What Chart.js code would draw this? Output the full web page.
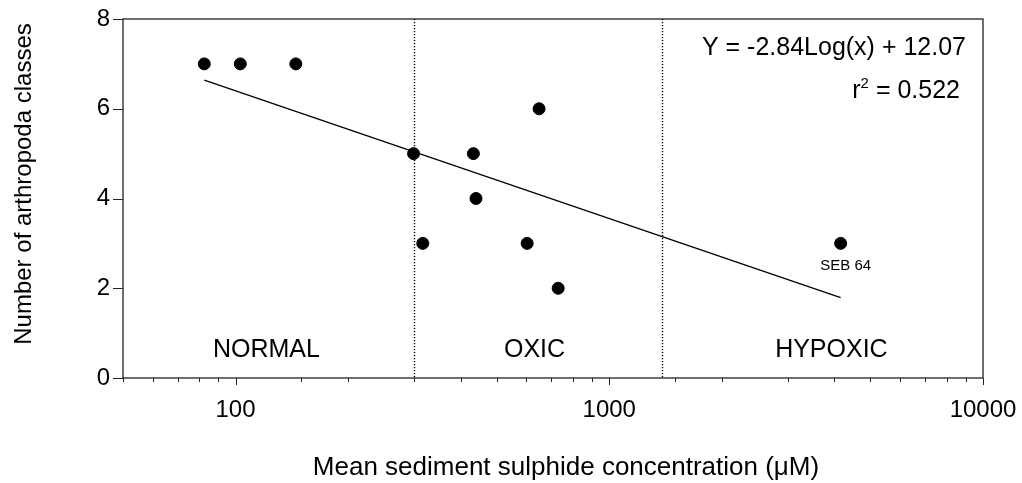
<!DOCTYPE html>
<html>
<head>
<meta charset="utf-8">
<script src="https://cdn.jsdelivr.net/npm/chart.js@4/dist/chart.umd.min.js"></script>
<style>
  body { margin: 0; background: #fff; }
  #wrap { width: 1022px; height: 483px; }
</style>
</head>
<body>
<div id="wrap"><canvas id="sulphideChart" width="1022" height="483"></canvas></div>
<script>
// sulphide (uM) vs number of arthropoda classes
const sulphide = [82.5, 103, 145, 299.5, 317, 433, 440, 603, 649, 730, 4160];
const classes = [7, 7, 7, 5, 3, 5, 4, 3, 6, 2, 3];

// fitted line end points (Y = -2.84Log(x) + 12.07)
const fitX = [82.5, 4160];
const fitY = [6.64, 1.79];

const zoneBounds = [300, 1380];
const zoneNames = ['NORMAL', 'OXIC', 'HYPOXIC'];
const zoneCentres = [121, 631, 3930];
const xTickLabels = [100, 1000, 10000];
const yTickLabels = [0, 2, 4, 6, 8];

const FONT = "'Liberation Sans', Arial, Helvetica, sans-serif";

const decor = {
    id: 'decor',
    beforeDatasetsDraw(chart) {
        const { ctx, chartArea: a, scales: { x } } = chart;
        ctx.save();
        ctx.strokeStyle = '#000';
        ctx.lineWidth = 1.4;
        ctx.setLineDash([1.2, 1.8]);
        zoneBounds.forEach(v => {
            const px = Math.round(x.getPixelForValue(v)) + 0.5;
            ctx.beginPath();
            ctx.moveTo(px, a.top);
            ctx.lineTo(px, a.bottom);
            ctx.stroke();
        });
        ctx.restore();
    },
    afterDraw(chart) {
        const { ctx, chartArea: a, scales: { x, y } } = chart;
        ctx.save();

        // frame
        ctx.strokeStyle = '#222';
        ctx.lineWidth = 1.3;
        ctx.strokeRect(a.left, a.top, a.right - a.left, a.bottom - a.top);

        // x tick marks, long at decades
        ctx.lineWidth = 1;
        x.ticks.forEach(t => {
            const px = Math.round(x.getPixelForValue(t.value)) + 0.5;
            const major = xTickLabels.includes(t.value);
            ctx.beginPath();
            ctx.moveTo(px, a.bottom);
            ctx.lineTo(px, a.bottom + (major ? 7 : 4));
            ctx.stroke();
        });
        // y tick marks
        yTickLabels.forEach(v => {
            const py = Math.round(y.getPixelForValue(v)) + 0.5;
            ctx.beginPath();
            ctx.moveTo(a.left, py);
            ctx.lineTo(a.left - 10, py);
            ctx.stroke();
        });

        ctx.fillStyle = '#000';
        ctx.textBaseline = 'alphabetic';

        // zone names
        ctx.font = '25px ' + FONT;
        ctx.textAlign = 'center';
        zoneNames.forEach((n, i) => {
            ctx.fillText(n, x.getPixelForValue(zoneCentres[i]), a.bottom - 21);
        });

        // label of the outlying station
        const last = sulphide.length - 1;
        ctx.font = '15px ' + FONT;
        ctx.fillText('SEB 64', x.getPixelForValue(sulphide[last]) + 5, y.getPixelForValue(classes[last]) + 27);

        // equation
        ctx.font = '25px ' + FONT;
        ctx.textAlign = 'right';
        const eqRight = a.right - 17;
        ctx.fillText('Y = -2.84Log(x) + 12.07', eqRight, a.top + 36);
        const r2Right = a.right - 23;
        const tail = ' = 0.522';
        const tailW = ctx.measureText(tail).width;
        ctx.fillText(tail, r2Right, a.top + 79);
        ctx.font = '15px ' + FONT;
        const supW = ctx.measureText('2').width;
        ctx.fillText('2', r2Right - tailW, a.top + 69);
        ctx.font = '25px ' + FONT;
        ctx.fillText('r', r2Right - tailW - supW, a.top + 79);

        // axis titles
        ctx.textAlign = 'center';
        ctx.font = '26px ' + FONT;
        ctx.fillText('Mean sediment sulphide concentration (\u03bcM)', 566, 475);
        ctx.font = '24px ' + FONT;
        ctx.translate(31, 184);
        ctx.rotate(-Math.PI / 2);
        ctx.fillText('Number of arthropoda classes', 0, 0);

        ctx.restore();
    }
};

new Chart(document.getElementById('sulphideChart'), {
    type: 'scatter',
    data: {
        datasets: [{
            label: 'Stations',
            data: sulphide.map((v, i) => ({ x: v, y: classes[i] })),
            backgroundColor: '#000',
            borderColor: '#000',
            pointRadius: 6,
            pointHoverRadius: 6
        }, {
            label: 'Fit',
            type: 'line',
            data: fitX.map((v, i) => ({ x: v, y: fitY[i] })),
            borderColor: '#000',
            borderWidth: 1.3,
            pointRadius: 0,
            fill: false
        }]
    },
    options: {
        responsive: false,
        animation: false,
        devicePixelRatio: 1,
        layout: { padding: { left: 0, top: 19, right: 39, bottom: 0 } },
        plugins: { legend: { display: false }, tooltip: { enabled: false } },
        scales: {
            x: {
                type: 'logarithmic',
                min: 50,
                max: 10000,
                grid: { display: false, drawTicks: false, tickLength: 0 },
                border: { display: false },
                afterFit: s => { s.height = 105; s.paddingLeft = 0; s.paddingRight = 0; },
                ticks: {
                    autoSkip: false,
                    maxRotation: 0,
                    padding: 18,
                    color: '#000',
                    font: { family: FONT, size: 24 },
                    callback: v => xTickLabels.includes(v) ? String(v) : ''
                }
            },
            y: {
                min: 0,
                max: 8,
                grid: { display: false, drawTicks: false, tickLength: 0 },
                border: { display: false },
                afterFit: s => { s.width = 123; s.paddingTop = 0; s.paddingBottom = 0; },
                ticks: {
                    stepSize: 2,
                    padding: 13,
                    color: '#000',
                    font: { family: FONT, size: 24 }
                }
            }
        }
    },
    plugins: [decor]
});
</script>
</body>
</html>
